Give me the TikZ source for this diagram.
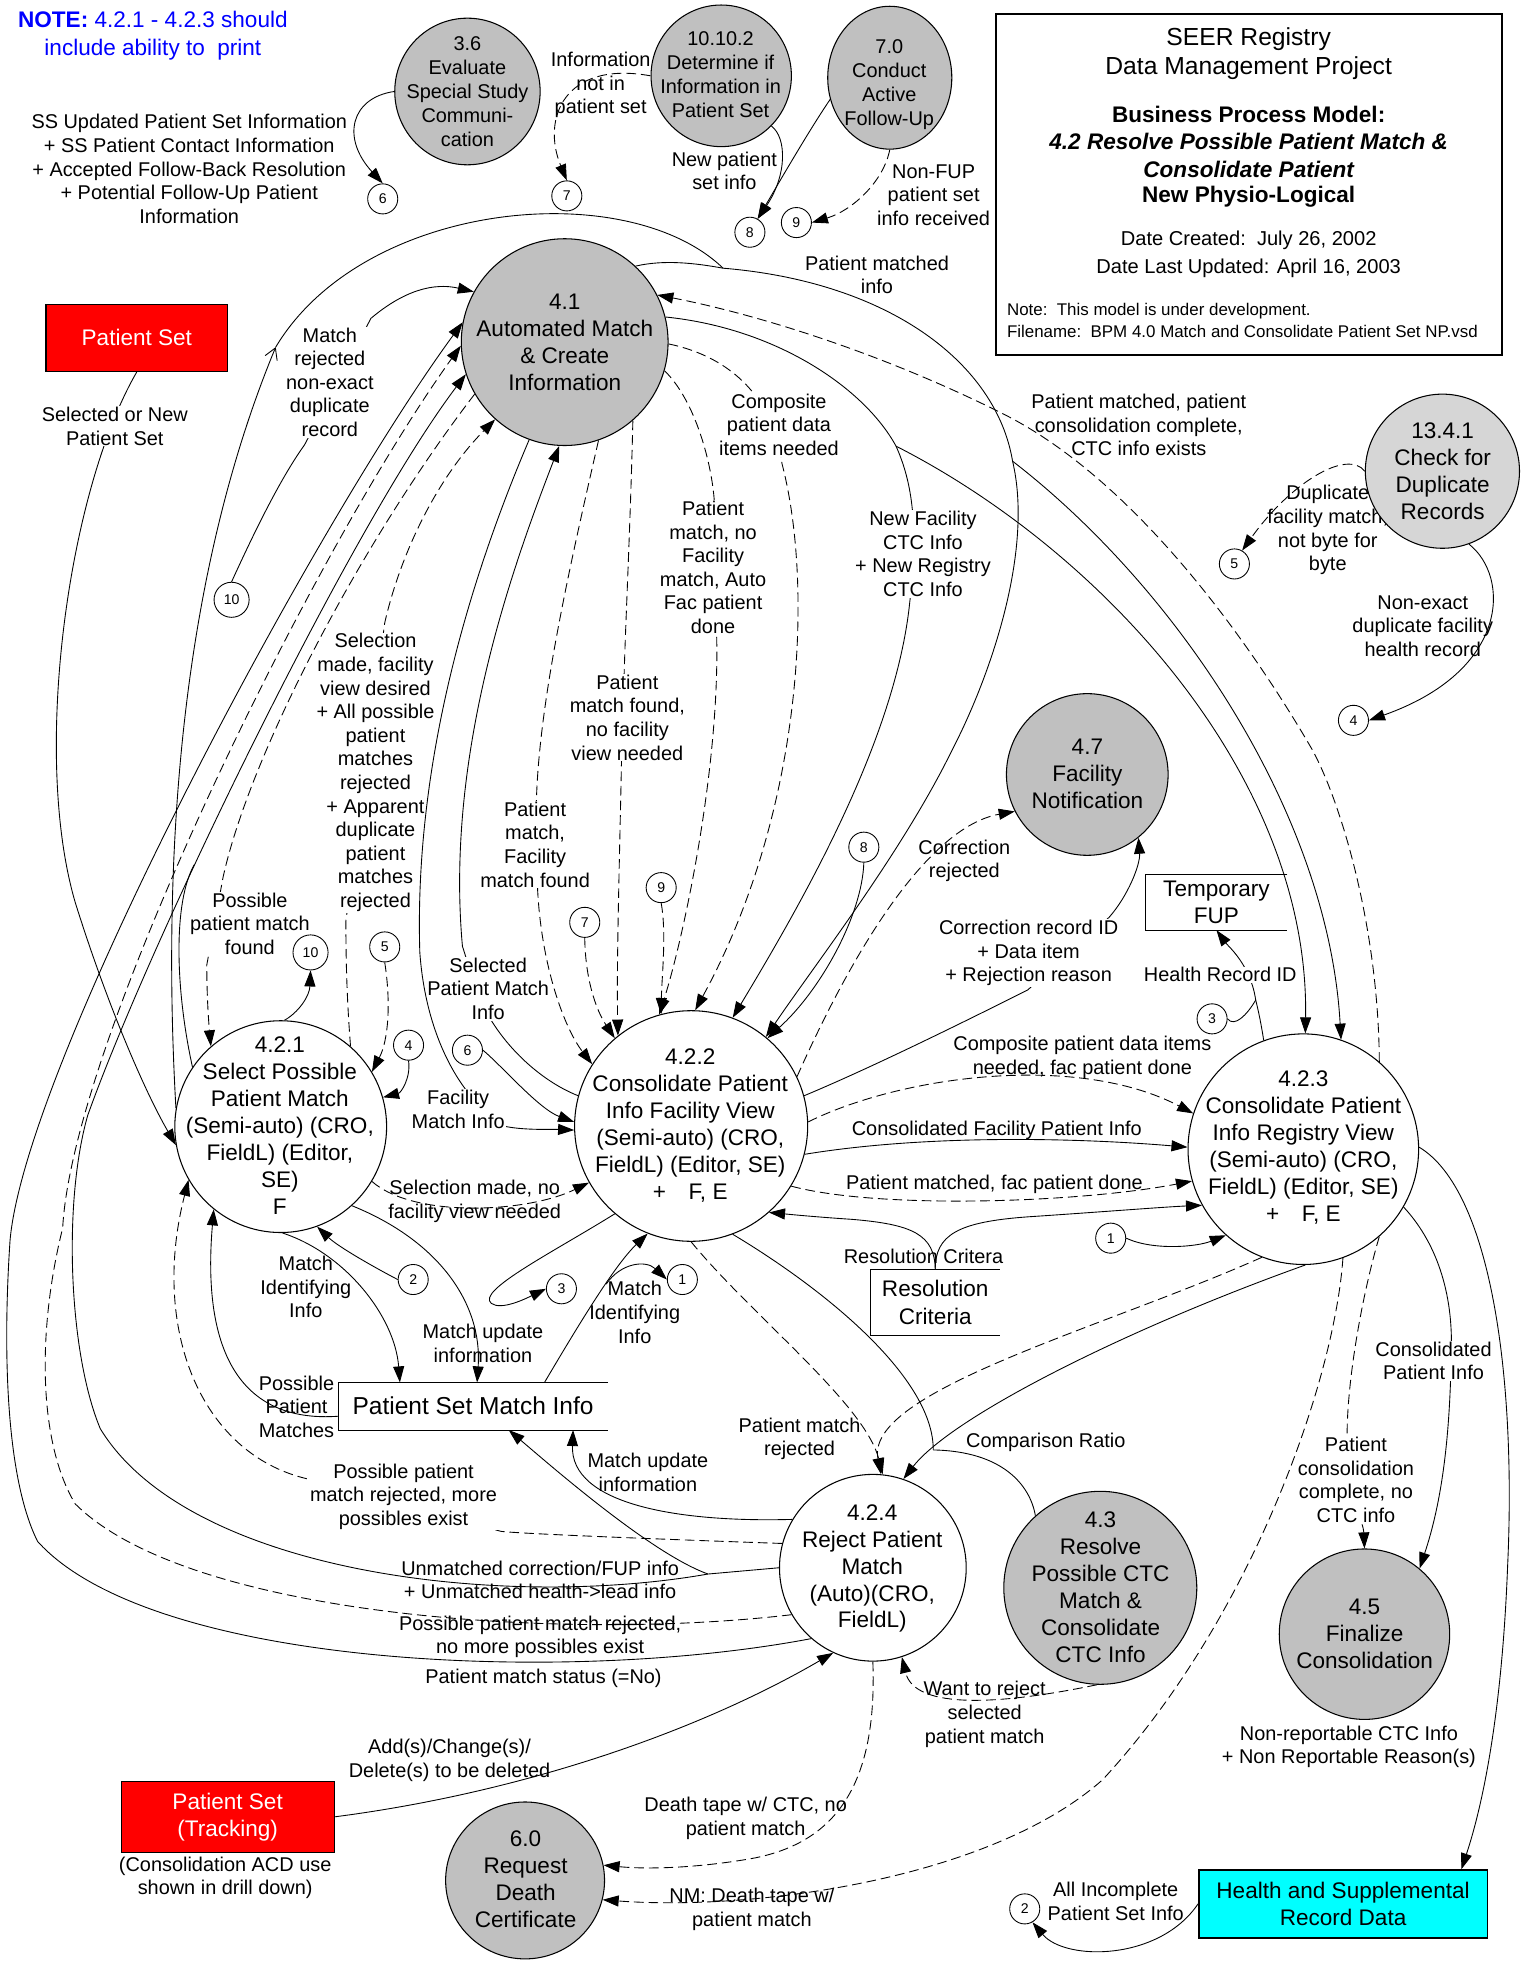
\documentclass[tikz,border=0pt]{standalone}
\usepackage{fontspec}
\setmainfont{Liberation Sans}
\usetikzlibrary{shapes.geometric, arrows.meta}
\pgfdeclarelayer{bg}
\pgfsetlayers{bg,main}
\definecolor{procgray}{HTML}{C0C0C0}
\definecolor{dupgray}{HTML}{D6D6D6}
\definecolor{entred}{HTML}{FF0000}
\definecolor{entcyan}{HTML}{00FFFF}
\definecolor{noteblue}{HTML}{0000FF}

\begin{document}
\begin{tikzpicture}[
    x=0.25mm, y=-0.25mm,
    wire/.style={line width=0.5pt},
    flow/.style={wire, -{Triangle[length=3.2mm,width=2.2mm]}},
    dflow/.style={flow, dash pattern=on 5.5pt off 2.8pt},
    extproc/.style={ellipse, draw, line width=0.6pt, fill=procgray, inner sep=0pt},
    intproc/.style={ellipse, draw, line width=0.6pt, fill=white, inner sep=0pt},
    ptext/.style={align=center, inner sep=0pt, font=\fontsize{12.8}{15.3}\selectfont},
    stext/.style={align=center, inner sep=0pt, font=\fontsize{11.3}{13.6}\selectfont},
    lbl/.style={align=center, inner sep=0.5pt, font=\fontsize{11.3}{13.4}\selectfont},
    mlbl/.style={lbl, fill=white},
    conn/.style={circle, draw, line width=0.5pt, fill=white, minimum size=6mm, inner sep=0pt, font=\fontsize{8}{9}\selectfont},
    entity/.style={rectangle, draw, line width=0.6pt, inner sep=0pt, align=center, font=\fontsize{12.8}{15.5}\selectfont},
    store/.style={rectangle, inner sep=0pt, align=center, font=\fontsize{12.8}{15.5}\selectfont}
]
\useasboundingbox (0,0) rectangle (1218,1568);

% Note
\node[align=center, text=noteblue, inner sep=0pt, font=\fontsize{12.8}{15.6}\selectfont] (note) at (122,28.4) {\textbf{NOTE:} 4.2.1 - 4.2.3 should\\include ability to\ \ print};

% Title block
\node[rectangle, draw, line width=1.2pt, minimum width=101mm, minimum height=68mm] (title) at (996.65,147.2) {};
\node[inner sep=0pt, font=\fontsize{14}{16}\selectfont] (tt1) at (996.4,31.4) {SEER Registry};
\node[inner sep=0pt, font=\fontsize{14}{16}\selectfont] (tt2) at (996.4,54.5) {Data Management Project};
\node[inner sep=0pt, font=\fontsize{12.8}{15}\bfseries] (tt3) at (996.4,91.7) {Business Process Model:};
\node[inner sep=0pt, font=\fontsize{12.8}{15}\bfseries\itshape] (tt4) at (996.4,113) {4.2 Resolve Possible Patient Match \&};
\node[inner sep=0pt, font=\fontsize{12.8}{15}\bfseries\itshape] (tt5) at (996.4,135) {Consolidate Patient};
\node[inner sep=0pt, font=\fontsize{12.8}{15}\bfseries] (tt6) at (996.4,156.9) {New Physio-Logical};
\node[inner sep=0pt, font=\fontsize{11.4}{14}\selectfont] (tt7) at (996.4,191.4) {Date Created:\ \ July 26, 2002};
\node[inner sep=0pt, font=\fontsize{11.4}{14}\selectfont] (tt8) at (996.4,214) {Date Last Updated: April 16, 2003};
\node[inner sep=0pt, anchor=west, font=\fontsize{9.6}{11}\selectfont] (tt9) at (803.3,248.6) {Note:\ \ This model is under development.};
\node[inner sep=0pt, anchor=west, font=\fontsize{9.6}{11}\selectfont] (tt10) at (803.3,264.6) {Filename:\ \ BPM 4.0 Match and Consolidate Patient Set NP.vsd};

% Outside processes
\node[extproc, minimum width=29mm, minimum height=29.25mm] (p36) at (373,73) {};
\node[stext] (p36t) at (373,73.2) {3.6\\Evaluate\\Special Study\\Communi-\\cation};
\node[extproc, minimum width=28mm, minimum height=28.25mm] (p10102) at (575.5,60.5) {};
\node[stext] (p10102t) at (575,59.5) {10.10.2\\Determine if\\Information in\\Patient Set};
\node[extproc, minimum width=24.75mm, minimum height=28.5mm] (p70) at (710,62) {};
\node[stext] (p70t) at (709.6,67.8) {7.0\\Conduct\\Active\\Follow-Up};
\node[extproc, minimum size=41.25mm] (p41) at (450.6,273) {};
\node[ptext] (p41t) at (450.7,272.9) {4.1\\Automated Match\\\& Create\\Information};
\node[extproc, fill=dupgray, minimum size=30.75mm] (p1341) at (1151,376) {};
\node[ptext] (p1341t) at (1151.2,376) {13.4.1\\Check for\\Duplicate\\Records};
\node[extproc, minimum size=32.25mm] (p47) at (867.6,618) {};
\node[ptext] (p47t) at (867.7,617.8) {4.7\\Facility\\Notification};
\node[extproc, minimum size=38.5mm] (p43) at (878,1267) {};
\node[ptext] (p43t) at (878.2,1266.7) {4.3\\Resolve\\Possible CTC\\Match \&\\Consolidate\\CTC Info};
\node[extproc, minimum size=34mm] (p45) at (1088.8,1304) {};
\node[ptext] (p45t) at (1088.9,1303.7) {4.5\\Finalize\\Consolidation};
\node[extproc, minimum width=31.7mm, minimum height=31.3mm] (p60) at (419,1500.5) {};
\node[ptext] (p60t) at (419.4,1499.6) {6.0\\Request\\Death\\Certificate};

% Processes of 4.2
\node[intproc, minimum size=42.25mm] (p421) at (224,899) {};
\node[ptext] (p421t) at (223.3,898) {4.2.1\\Select Possible\\Patient Match\\(Semi-auto) (CRO,\\FieldL) (Editor,\\SE)\\F};
\node[intproc, minimum width=46.5mm, minimum height=46mm] (p422) at (551.5,898.5) {};
\node[ptext] (p422t) at (550.8,898.1) {4.2.2\\Consolidate Patient\\Info Facility View\\(Semi-auto) (CRO,\\FieldL) (Editor, SE)\\+\quad F, E};
\node[intproc, minimum size=46mm] (p423) at (1040,917) {};
\node[ptext] (p423t) at (1040,915.4) {4.2.3\\Consolidate Patient\\Info Registry View\\(Semi-auto) (CRO,\\FieldL) (Editor, SE)\\+\quad F, E};
\node[intproc, minimum size=37.25mm] (p424) at (696.5,1251) {};
\node[ptext] (p424t) at (696,1251.6) {4.2.4\\Reject Patient\\Match\\(Auto)(CRO,\\FieldL)};

% Entities
\node[entity, fill=entred, text=white, minimum width=36.25mm, minimum height=13.35mm] (psA) at (109.2,269.6) {Patient Set};
\node[entity, fill=entred, text=white, minimum width=42.5mm, minimum height=14.1mm] (psT) at (181.65,1449.75) {Patient Set\\(Tracking)};
\node[lbl] (lCons) at (179.7,1498.5) {(Consolidation ACD use\\shown in drill down)};
\node[entity, fill=entcyan, line width=0.9pt, minimum width=57.55mm, minimum height=13.5mm] (hsr) at (1071.7,1519.25) {Health and Supplemental\\Record Data};

% Data stores
\node[store, minimum width=28.1mm, minimum height=10.9mm] (tfup) at (970.7,720.15) {Temporary\\FUP};
\draw[wire] (tfup.north east) -- (tfup.north west) -- (tfup.south west) -- (tfup.south east);
\node[store, font=\fontsize{13.9}{16}\selectfont, minimum width=53.75mm, minimum height=9.35mm] (psmi) at (377.5,1122.1) {Patient Set Match Info};
\draw[wire] (psmi.north east) -- (psmi.north west) -- (psmi.south west) -- (psmi.south east);
\node[store, minimum width=25.55mm, minimum height=12.9mm] (rcrit) at (746.3,1039.4) {Resolution\\Criteria};
\draw[wire] (rcrit.north east) -- (rcrit.north west) -- (rcrit.south west) -- (rcrit.south east);

% Off-page connectors
\node[conn] (c6a) at (305.4,158.7) {6};
\node[conn] (c7a) at (452.3,156.3) {7};
\node[conn] (c8a) at (598.4,185.3) {8};
\node[conn] (c9a) at (635.5,177.6) {9};
\node[conn, minimum size=7mm] (c10a) at (184.8,478.6) {10};
\node[conn] (c5a) at (985,450) {5};
\node[conn] (c4a) at (1080,574.8) {4};
\node[conn, minimum size=7mm] (c10b) at (247.8,760) {10};
\node[conn] (c5b) at (307,755.6) {5};
\node[conn] (c4b) at (326,834) {4};
\node[conn] (c6b) at (373,838) {6};
\node[conn] (c7b) at (466.6,736) {7};
\node[conn] (c9b) at (527.6,708.3) {9};
\node[conn] (c8b) at (689.3,676) {8};
\node[conn] (c3a) at (967.2,813) {3};
\node[conn] (c2a) at (329.7,1021) {2};
\node[conn] (c3b) at (448,1028.4) {3};
\node[conn] (c1a) at (544.5,1021) {1};
\node[conn] (c1b) at (886.3,988) {1};
\node[conn] (c2b) at (817.7,1523.2) {2};

% Junctions
\coordinate (m1) at (220,277);
\coordinate (jM) at (577,214);
\coordinate (jA) at (808,368);
\coordinate (jB) at (715,356);
\coordinate (jU) at (565,1256);
\coordinate (jI) at (483.7,1024.7);
\coordinate (jH) at (1002,798);
\coordinate (jC) at (744.7,1157);

\begin{pgfonlayer}{bg}
% Flows whose labels hide part of the line
\draw[dflow] (p421.49) .. controls (277,800) and (276,770) .. (276,735) -- (307,497) .. controls (320,440) and (350,380) .. (p41.228);
\node[mlbl] (lSelDes) at (299.6,616.5) {Selection\\made, facility\\view desired\\+ All possible\\patient\\matches\\rejected\\+ Apparent\\duplicate\\patient\\matches\\rejected};
\draw[flow] (p422.165) .. controls (430,862) and (395,830) .. (380,790) -- (369,755) .. controls (355,600) and (410,450) .. (p41.267);
\node[mlbl] (lSelPMI) at (389.5,789) {Selected\\Patient Match\\Info};

\draw[flow] (c10a.north) .. controls (205,420) and (225,380) .. (243,355) -- (296,254) .. controls (315,238) and (340,224) .. (p41.151);
\node[mlbl] (lMatchRej) at (263.2,305) {Match\\rejected\\non-exact\\duplicate\\record};
\draw[flow] (psA.south) .. controls (55,390) and (25,600) .. (60,720) .. controls (85,800) and (115,870) .. (p421.190);
\node[mlbl] (lSelNew) at (91.6,340) {Selected or New\\Patient Set};
\draw[flow] (p41.14) .. controls (620,262) and (690,310) .. (jB) .. controls (728,385) and (733,420) .. (726,480) .. controls (715,590) and (640,720) .. (p422.69);
\node[mlbl] (lNewFac) at (736.5,442) {New Facility\\CTC Info\\+ New Registry\\CTC Info};
\draw[dflow] (p41.-1) .. controls (585,285) and (618,320) .. (624,370) .. controls (650,470) and (640,650) .. (p422.88);
\node[mlbl] (lComp) at (621.6,339) {Composite\\patient data\\items needed};
\draw[dflow] (p41.-16) .. controls (555,320) and (568,370) .. (570,400) -- (572,515) .. controls (573,620) and (545,750) .. (p422.106);
\node[mlbl] (lNoFac) at (569,452.8) {Patient\\match, no\\Facility\\match, Auto\\Fac patient\\done};
\draw[dflow] (p41.-49) .. controls (503,420) and (499,500) .. (498,540) -- (496,605) .. controls (494,700) and (492,770) .. (p422.129);
\node[mlbl] (lFoundNoFac) at (500.6,572.6) {Patient\\match found,\\no facility\\view needed};
\draw[dflow] (p41.-71) .. controls (455,450) and (430,560) .. (428,640) -- (429,710) .. controls (432,770) and (450,820) .. (p422.148);
\node[mlbl] (lPMFac) at (427,674) {Patient\\match,\\Facility\\match found};
\draw[dflow] (p41.210) .. controls (290,430) and (200,600) .. (178,700) -- (165,770) .. controls (165,790) and (166,810) .. (p421.131);
\node[mlbl] (lPossFound) at (199.4,737) {Possible\\patient match\\found};
\draw[flow] (p41.250) .. controls (380,450) and (330,600) .. (335,760) .. controls (340,830) and (370,880) .. (404,899) .. controls (420,902) and (440,901) .. (p422.182);
\node[mlbl] (lFacMI) at (365.6,885) {Facility\\Match Info};
\draw[flow] (p422.15) .. controls (700,850) and (780,810) .. (820,790) -- (885,732) .. controls (900,715) and (910,690) .. (p47.-51);
\node[mlbl] (lCorrRec) at (820.8,760.5) {Correction record ID\\+ Data item\\+ Rejection reason};
\draw[flow] (p423.110) .. controls (1006,815) and (1004,806) .. (jH) .. controls (998,770) and (980,755) .. (tfup.south);
\node[mlbl] (lHRID) at (973.7,777.8) {Health Record ID};
\draw[flow] (p423.-30) .. controls (1145,990) and (1160,1030) .. (1158,1080) .. controls (1157,1150) and (1150,1200) .. (p45.50);
\node[mlbl] (lConsPI) at (1143.9,1086) {Consolidated\\Patient Info};
\draw[dflow] (p423.-49) .. controls (1085,1040) and (1074,1110) .. (1075,1150) .. controls (1078,1200) and (1088,1215) .. (p45.90);
\node[mlbl] (lPCC) at (1082,1181) {Patient\\consolidation\\complete, no\\CTC info};
\draw[dflow] (p424.165) .. controls (520,1228) and (420,1224) .. (400,1222) -- (245,1180) .. controls (160,1160) and (120,1060) .. (p421.210);
\node[mlbl] (lPPMmore) at (322,1194.3) {Possible patient\\match rejected, more\\possibles exist};

% Top connectors
\draw[flow] (p36.180) .. controls (280,78) and (272,110) .. (c6a.north);
\node[lbl] (lSS) at (151,134.8) {SS Updated Patient Set Information\\+ SS Patient Contact Information\\+ Accepted Follow-Back Resolution\\+ Potential Follow-Up Patient\\Information};
\draw[dflow] (p10102.180) .. controls (450,48) and (432,95) .. (c7a.north);
\node[lbl] (lInfo) at (479.3,68) {Information\\not in\\patient set};
\draw[flow] (p10102.-45) .. controls (628,110) and (628,140) .. (c8a.60);
\node[lbl] (lNewPS) at (578,136.5) {New patient\\set info};
\draw[flow] (p70.200) .. controls (645,105) and (622,145) .. (c8a.60);
\draw[dflow] (p70.-90) .. controls (705,145) and (680,168) .. (c9a.east);
\node[lbl] (lNonFUP) at (745,155.5) {Non-FUP\\patient set\\info received};

% Patient matched info
\draw[wire, -{Straight Barb[length=2.2mm,width=2.6mm]}] (p421.170) .. controls (130,700) and (140,470) .. (m1);
\draw[flow] (m1) .. controls (290,160) and (500,140) .. (jM) .. controls (710,225) and (795,290) .. (jA) .. controls (825,440) and (790,540) .. (760,598) .. controls (720,680) and (650,770) .. (p422.50);
\draw[wire] (p41.47) .. controls (530,207) and (555,210) .. (jM);
\draw[flow] (jA) .. controls (940,470) and (1060,650) .. (p423.71);
\node[lbl] (lPMI) at (699.8,219.4) {Patient matched\\info};
\draw[flow] (jB) .. controls (880,440) and (1045,620) .. (p423.89);

% Back to 4.1
\draw[dflow] (p423.49) .. controls (1100,740) and (1070,640) .. (1047,598) .. controls (990,500) and (900,380) .. (800,330) .. controls (700,280) and (600,250) .. (p41.27);
\node[lbl] (lPMPC) at (908.7,339.3) {Patient matched, patient\\consolidation complete,\\CTC info exists};
\draw[flow] (p424.229) .. controls (450,1345) and (120,1330) .. (30,1230) .. controls (5,1180) and (2,1080) .. (8,990) .. controls (20,850) and (250,420) .. (p41.169);
\node[lbl] (lPMS) at (433.7,1339.3) {Patient match status (=No)};
\draw[dflow] (p424.210) .. controls (450,1310) and (150,1290) .. (60,1200) .. controls (30,1150) and (30,1060) .. (50,980) .. controls (58,830) and (250,440) .. (p41.182);
\node[lbl] (lPPMno) at (431,1306) {Possible patient match rejected,\\no more possibles exist};
\draw[flow] (p424.180) -- (jU) .. controls (400,1285) and (150,1255) .. (80,1140) .. controls (55,1080) and (50,960) .. (70,890) .. controls (120,750) and (280,420) .. (p41.198);
\draw[flow] (jU) .. controls (520,1240) and (440,1170) .. ([xshift=7.1mm]psmi.south);
\node[lbl] (lUnm) at (431,1260.7) {Unmatched correction/FUP info\\+ Unmatched health->lead info};
\draw[wire] (p421.146) .. controls (140,790) and (138,720) .. (155,690);

% 13.4.1
\draw[dflow] (p1341.180) .. controls (1075,358) and (1030,385) .. (c5a.60);
\node[lbl] (lDup) at (1059.5,423) {Duplicate\\facility match,\\not byte for\\byte};
\draw[flow] (p1341.-70) .. controls (1205,460) and (1205,535) .. (c4a.east);
\node[lbl] (lNonEx) at (1135.3,499.5) {Non-exact\\duplicate facility\\health record};

% 4.2.1
\draw[flow] (p421.88) .. controls (238,808) and (247,795) .. (c10b.south);
\draw[dflow] (c5b.south) .. controls (312,800) and (310,830) .. (p421.31);
\draw[flow] (c4b.south) .. controls (328,860) and (320,872) .. (p421.16);
\draw[dflow] (p421.-31) .. controls (330,972) and (420,968) .. (p422.209);
\node[lbl] (lSelNo) at (378.8,958.8) {Selection made, no\\facility view needed};
\draw[flow] (p421.-89) .. controls (275,1000) and (315,1050) .. ([xshift=-14.6mm]psmi.north);
\node[lbl] (lMII1) at (244,1027) {Match\\Identifying\\Info};
\draw[flow] (c2a.west) .. controls (300,1012) and (270,995) .. (p421.-70);
\draw[flow] (p421.-48) .. controls (350,990) and (385,1040) .. ([xshift=0.8mm]psmi.north);
\node[lbl] (lMUI1) at (385.4,1071.8) {Match update\\information};
\draw[flow] ([yshift=-2mm]psmi.west) .. controls (200,1135) and (160,1090) .. (p421.231);
\node[lbl] (lPPM) at (236.6,1122.5) {Possible\\Patient\\Matches};

% 4.2.2
\draw[flow] (c6b.east) .. controls (400,850) and (430,885) .. (p422.178);
\draw[dflow] (c7b.south) .. controls (467,780) and (475,805) .. (p422.131);
\draw[dflow] (c9b.south) .. controls (532,745) and (528,780) .. (p422.105);
\draw[flow] (c8b.south) .. controls (688,730) and (655,790) .. (p422.49);
\draw[flow] (p422.229) .. controls (440,1000) and (380,1030) .. (392,1040) .. controls (400,1046) and (420,1036) .. (c3b.west);
\draw[flow] ([xshift=14.25mm]psmi.north) .. controls (460,1060) and (490,1010) .. (p422.248);
\draw[flow] (jI) .. controls (495,1008) and (515,1005) .. (c1a.west);
\node[lbl] (lMII2) at (506.5,1047.3) {Match\\Identifying\\Info};
\draw[dflow] (p422.25) .. controls (680,760) and (740,660) .. (p47.207);
\node[lbl] (lCorrRej) at (769.5,686.8) {Correction\\rejected};
\draw[dflow] (p422.2) .. controls (720,858) and (860,840) .. (p423.162);
\node[lbl] (lCompFac) at (863.7,843.7) {Composite patient data items\\needed, fac patient done};
\draw[flow] (p422.-14) .. controls (740,905) and (860,908) .. (p423.179);
\node[lbl] (lConsFac) at (795.4,902.2) {Consolidated Facility Patient Info};
\draw[dflow] (p422.-31) .. controls (700,965) and (860,960) .. (p423.196);
\node[lbl] (lPMFacDone) at (793.5,944.9) {Patient matched, fac patient done};
\draw[flow] (rcrit.north) .. controls (746,985) and (765,975) .. (820,971) .. controls (880,967) and (930,963) .. (p423.209);
\draw[flow] (rcrit.north) .. controls (746,985) and (728,977) .. (680,973) .. controls (650,971) and (630,969) .. (p422.-48);
\node[lbl] (lResCrit) at (736.9,1002.3) {Resolution Critera};

% 4.2.3
\draw[wire] (c3a.east) .. controls (985,820) and (995,810) .. (jH);
\draw[flow] (c1b.east) .. controls (920,998) and (955,995) .. (p423.228);
\draw[flow] (p423.-89) .. controls (900,1060) and (760,1130) .. (p424.71);
\draw[wire] (p422.-69) .. controls (660,1030) and (745,1100) .. (jC);
\draw[wire] (p43.132) .. controls (822,1185) and (800,1158) .. (jC);
\node[lbl] (lCompR) at (834.5,1151) {Comparison Ratio};
\draw[dflow] (p422.-90) .. controls (600,1050) and (690,1120) .. (p424.84);
\draw[dflow] (p423.249) .. controls (880,1060) and (690,1110) .. (p424.85);
\node[lbl] (lPMRej) at (638,1148) {Patient match\\rejected};
\draw[flow] (p423.1) .. controls (1190,950) and (1210,1100) .. (1203,1250) .. controls (1198,1380) and (1180,1450) .. ([xshift=23.6mm]hsr.north);
\node[lbl] (lNonRep) at (1076.4,1394) {Non-reportable CTC Info\\+ Non Reportable Reason(s)};
\draw[dflow] (p423.-70) .. controls (1065,1100) and (1000,1290) .. (880,1420) .. controls (790,1500) and (600,1525) .. (p60.-14);
\node[lbl] (lNM) at (600,1523.5) {NM: Death tape w/\\patient match};

% 4.2.4
\draw[flow] (p424.149) .. controls (540,1215) and (455,1200) .. ([xshift=19.95mm]psmi.south);
\node[lbl] (lMUI2) at (517,1175) {Match update\\information};
\draw[dflow] (p43.268) .. controls (800,1360) and (730,1365) .. (p424.-72);
\node[lbl] (lWant) at (785.7,1367.9) {Want to reject\\selected\\patient match};
\draw[dflow] (p424.-90) .. controls (700,1420) and (670,1470) .. (600,1483) .. controls (560,1490) and (520,1492) .. (p60.11);
\node[lbl] (lDeath) at (595,1451) {Death tape w/ CTC, no\\patient match};
\draw[flow] (psT.east) .. controls (420,1430) and (560,1380) .. (p424.245);
\node[lbl] (lAdd) at (358.7,1404.5) {Add(s)/Change(s)/\\Delete(s) to be deleted};

% Health and Supplemental
\draw[flow] (hsr.west) .. controls (925,1565) and (850,1565) .. (c2b.-60);
\node[lbl] (lAllInc) at (890.3,1517.3) {All Incomplete\\Patient Set Info};
\end{pgfonlayer}

\end{tikzpicture}
\end{document}
